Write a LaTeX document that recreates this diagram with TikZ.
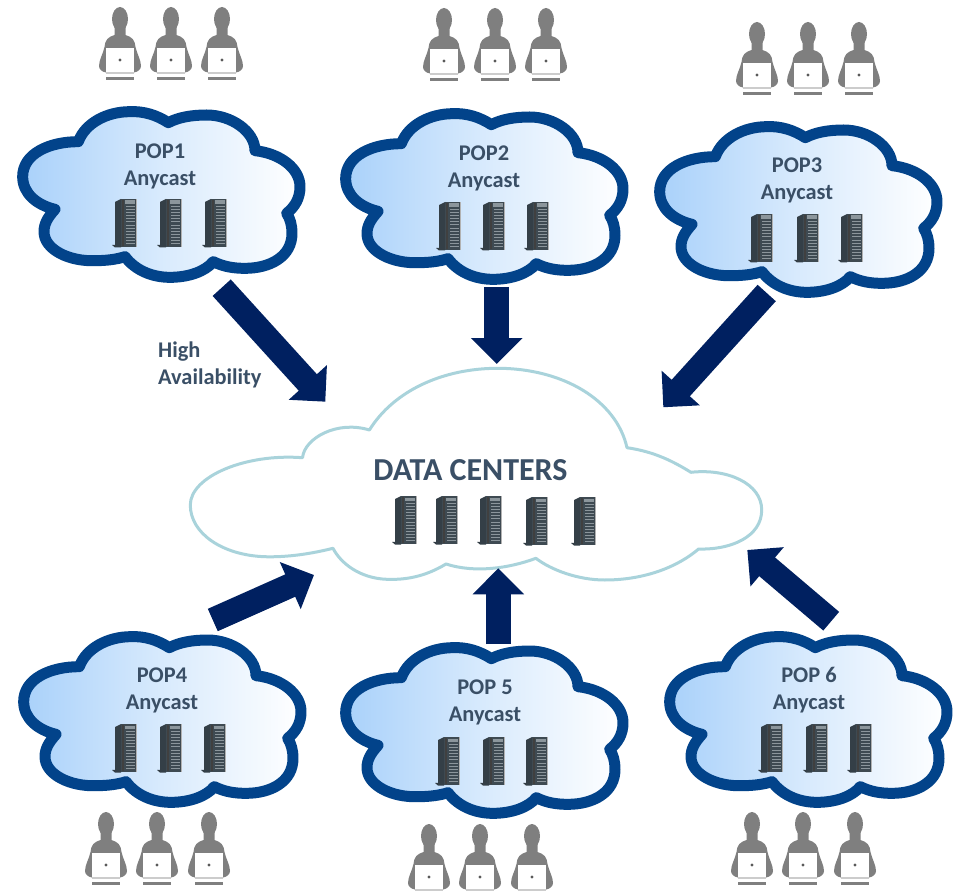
\documentclass[tikz,border=0pt]{standalone}
\usepackage{fontspec}
\setmainfont{Carlito}
\usetikzlibrary{arrows.meta}
\definecolor{popblue}{HTML}{02438A}
\definecolor{shadeL}{HTML}{A9D1FA}
\definecolor{txtc}{HTML}{3A4F66}
\definecolor{arrowc}{HTML}{002060}
\definecolor{dcline}{HTML}{A9D3DB}
\definecolor{persong}{HTML}{7F7F7F}
\definecolor{srvside}{HTML}{343F47}
\definecolor{srvfront}{HTML}{3E4A52}
\definecolor{srvbay}{HTML}{8C969C}
\tikzset{
  poplabel/.style={font=\fontsize{22.4}{27}\selectfont\bfseries,text=txtc,align=center,inner sep=0pt},
  bigarrow/.style={arrowc,line width=24.5pt,-{Triangle[length=26pt,width=50pt]}},
  popcloud/.style={draw=popblue,line width=11pt,line join=round,left color=shadeL,right color=white,middle color=shadeL!45!white},
  srv/.pic={
    \fill[srvside] (0,46) -- (9,45.5) -- (9,48.5) -- (3,48.5) -- cycle;
    \fill[srvside] (3,3) -- (9,0) -- (9,47) -- (3,46) -- cycle;
    \fill[srvfront] (9,0) rectangle (24,48);
    \fill[black!30] (24,0) rectangle (24.7,48);
    \fill[srvbay] (12.5,1.5) rectangle (23,5);
    \foreach \yy in {7,10,...,22}{\fill[srvbay] (14,\yy) rectangle (23,\yy+1.1);}
    \foreach \yy in {26,29,...,45}{\fill[srvbay] (14,\yy) rectangle (23,\yy+1.1);}
    \fill[black!75] (10,1) rectangle (12,47);
  },
  usr/.pic={
    \fill[persong] (0,12) ellipse (8 and 12);
    \fill[persong] (-5.5,20) -- (-5.5,28) .. controls (-12,30) and (-15,33) .. (-15.5,40)
      .. controls (-17,47) and (-21,53) .. (-21,59) .. controls (-21,62) and (-18,65) .. (-14,65.5)
      -- (14,65.5) .. controls (18,65) and (21,62) .. (21,59)
      .. controls (21,53) and (17,47) .. (15.5,40) .. controls (15,33) and (12,30) .. (5.5,28) -- (5.5,20) -- cycle;
    \fill[white] (-14,41) rectangle (14,65);
    \fill[black!20] (-14,65) rectangle (14,67);
    \fill[persong] (-14,70) rectangle (14,73);
    \fill[black!65] (0,53) circle (1.7);
  }
}
\newcommand{\smallcloud}[2]{%
  \path[popcloud,shift={(#1,#2)},scale=1/3]
   (505,368) .. controls (470,345) and (430,333) .. (390,335)
   .. controls (320,335) and (255,370) .. (235,425)
   .. controls (150,425) and (68,460) .. (68,530)
   .. controls (68,580) and (110,615) .. (165,628)
   .. controls (145,650) and (132,670) .. (132,695)
   .. controls (132,750) and (210,785) .. (285,782)
   .. controls (320,782) and (350,778) .. (375,770)
   .. controls (405,810) and (455,832) .. (510,832)
   .. controls (565,832) and (615,815) .. (640,785)
   .. controls (670,800) and (700,805) .. (735,805)
   .. controls (810,805) and (876,770) .. (876,700)
   .. controls (876,675) and (870,655) .. (860,640)
   .. controls (885,620) and (900,595) .. (900,560)
   .. controls (900,505) and (840,460) .. (765,452)
   .. controls (765,395) and (695,345) .. (620,345)
   .. controls (575,345) and (535,352) .. (505,368) -- cycle;
}
\begin{document}
\begin{tikzpicture}[x=1pt,y=-1pt]
\path[use as bounding box] (0,0) rectangle (953,893);
\clip (0,0) rectangle (953,893);
% people
\foreach \cx/\ty in {120/7,171/7,222/7,444/8,495/8,546/8,757/22,808/22,859/22,
  106/812,157/812,209/812,429/824,480/824,532/824,752/812,803/812,855/812}
  {\pic at (\cx,\ty) {usr};}
% POP clouds
\smallcloud{0}{0}
\smallcloud{323}{2}
\smallcloud{637}{15}
\smallcloud{1}{525}
\smallcloud{323}{536}
\smallcloud{647}{525}
% data centre cloud
\path[draw=dcline,line width=3pt,fill=white,line join=round]
  (369.4,430) .. controls (394.3,390) and (444,368.3) .. (497.6,368.3)
  .. controls (562.7,368.3) and (616.3,400) .. (627,447.7)
  .. controls (654.7,451.7) and (673.7,461.7) .. (690.9,472.3)
  .. controls (727.2,468.3) and (761.7,483.3) .. (761.7,510)
  .. controls (761.7,536.7) and (731,550) .. (698.6,549)
  .. controls (673.7,570) and (639.2,580) .. (604.8,580)
  .. controls (578,580) and (551.2,570) .. (535.9,558.3)
  .. controls (509,568.3) and (474.7,573.3) .. (446,564)
  .. controls (425,576.7) and (405.8,580) .. (386.7,579.3)
  .. controls (359.9,578.3) and (340.7,563.3) .. (333,548.3)
  .. controls (306.3,555) and (283.3,557.3) .. (264.2,556.7)
  .. controls (222.1,555) and (190.3,533.3) .. (190.3,505)
  .. controls (190.3,476.7) and (245.1,453.3) .. (302.5,457.7)
  .. controls (304.4,438.3) and (336.9,420) .. (369.4,430) -- cycle;
% servers
\foreach \sx/\sy in {112/199,157/199,202/199,436/202,480/202,524/202,748/214,794/214,838/214,
  112/724,157/724,201/724,435/737,480/737,523/737,758/724,803/724,847/724,
  392/496,433/496,477/496,523/497,571/497}
  {\pic at (\sx,\sy) {srv};}
% labels
\node[poplabel] (pop1) at (160,166) {POP1\\Anycast};
\node[poplabel] (pop2) at (484,168) {POP2\\Anycast};
\node[poplabel] (pop3) at (797,180) {POP3\\Anycast};
\node[poplabel] (pop4) at (162,690) {POP4\\Anycast};
\node[poplabel] (pop5) at (485,702) {POP 5\\Anycast};
\node[poplabel] (pop6) at (809,690) {POP 6\\Anycast};
\node[poplabel,align=left,anchor=west] (ha) at (158,365) {High\\Availability};
\node[font=\fontsize{32}{38}\selectfont\bfseries,text=txtc,inner sep=0pt] (dc) at (470.5,470) {DATA CENTERS};
% arrows
\coordinate (a1s) at (221.7,287.7); \coordinate (a1e) at (325.3,401.7);
\coordinate (a2s) at (496.7,287);   \coordinate (a2e) at (496.7,364);
\coordinate (a3s) at (766.7,293);   \coordinate (a3e) at (663.3,407.3);
\coordinate (a4s) at (212.8,620);   \coordinate (a4e) at (314,575);
\coordinate (a5s) at (498.3,644);   \coordinate (a5e) at (498.3,568.3);
\coordinate (a6s) at (831.2,621.2); \coordinate (a6e) at (747.3,550);
\foreach \n in {1,...,6}{\draw[bigarrow] (a\n s) -- (a\n e);}
\end{tikzpicture}
\end{document}
